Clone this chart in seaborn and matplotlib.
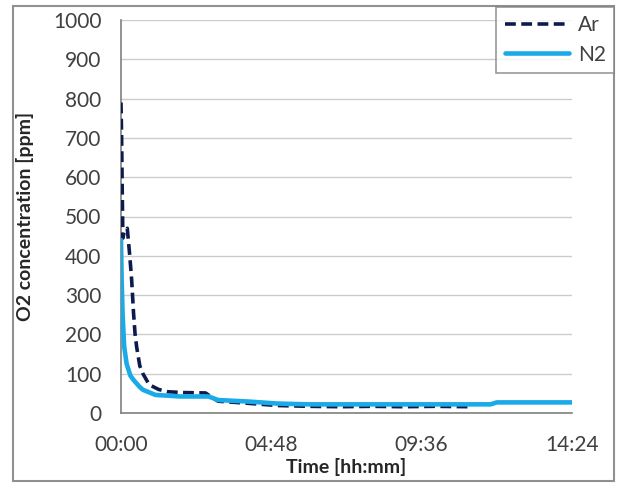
import matplotlib
matplotlib.use("Agg")
import matplotlib.pyplot as plt
import numpy as np
import pandas as pd
import seaborn as sns
from matplotlib.patches import Rectangle
from matplotlib.lines import Line2D

# values, time in hours
ar_time = [0.0, 0.02, 0.04, 0.06, 0.1, 0.2, 0.28, 0.34, 0.4, 0.45, 0.5, 0.6, 0.7, 0.9,
           1.2, 1.5, 2.0, 2.7, 2.9, 3.1, 4.0, 5.0, 6.0, 7.0, 8.0, 9.0, 10.0, 11.1]
ar_ppm = [790, 700, 560, 445, 460, 470, 400, 339, 255, 200, 168, 120, 100, 72,
          60, 54, 52, 51, 40, 30, 25, 19, 17, 16, 17, 16, 17, 16]

n2_time = [0.0, 0.02, 0.05, 0.1, 0.18, 0.3, 0.4, 0.6, 0.7, 1.1, 1.9, 2.8, 3.1, 4.1,
           5.0, 6.0, 8.0, 10.0, 11.8, 12.0, 14.4]
n2_ppm = [440, 340, 255, 170, 125, 95, 84, 66, 59, 46, 42, 42, 33, 29,
          24, 22, 22, 22, 22, 27, 27]

x_ticks = [0, 4.8, 9.6, 14.4]
x_tick_labels = ["00:00", "04:48", "09:36", "14:24"]
y_ticks = list(range(0, 1001, 100))

ar_color = "#0d1a4e"
n2_color = "#1aaae8"

sns.set_style("white")
plt.rcParams["font.family"] = ["Lato", "DejaVu Sans"]

fig = plt.figure(figsize=(6.21, 4.83), dpi=100)
ax = fig.add_axes([121 / 621, 1 - 413 / 483, 451 / 621, 393 / 483])

ar_df = pd.DataFrame({"t": ar_time, "ppm": ar_ppm})
n2_df = pd.DataFrame({"t": n2_time, "ppm": n2_ppm})

ar_dash = (0, (3.0, 1.5))
sns.lineplot(data=ar_df, x="t", y="ppm", ax=ax, color=ar_color, lw=2.6,
             linestyle=ar_dash, zorder=3)
sns.lineplot(data=n2_df, x="t", y="ppm", ax=ax, color=n2_color, lw=3.3, zorder=4)

ax.set_xlim(0, 14.4)
ax.set_ylim(0, 1000)
ax.set_xticks(x_ticks)
ax.set_xticklabels(x_tick_labels)
ax.set_yticks(y_ticks)
ax.tick_params(axis="both", labelsize=15, colors="#404040")
ax.tick_params(axis="x", direction="out", length=6, width=1, color="#808080", pad=10)
ax.tick_params(axis="y", direction="out", length=4, width=1, color="#808080", pad=10)

ax.yaxis.grid(True, color="#cccccc", lw=1)
ax.xaxis.grid(False)
for s in ["top", "right"]:
    ax.spines[s].set_visible(False)
for s in ["left", "bottom"]:
    ax.spines[s].set_color("#808080")
    ax.spines[s].set_linewidth(1.2)

ax.set_xlabel("Time [hh:mm]", fontsize=14, fontweight="bold", labelpad=2)
ax.set_ylabel("O2 concentration [ppm]", fontsize=14, fontweight="bold", labelpad=14)

handles = [Line2D([], [], color=ar_color, lw=2.6, linestyle=ar_dash),
           Line2D([], [], color=n2_color, lw=3.3)]
leg = fig.legend(handles, ["Ar", "N2"], loc="upper right",
                 bbox_to_anchor=(614 / 621, 1 - 7 / 483), fontsize=15,
                 frameon=True, fancybox=False, edgecolor="#808080",
                 handlelength=3.1, handletextpad=0.4, borderpad=0.4,
                 labelspacing=0.45, borderaxespad=0)
leg.get_frame().set_linewidth(1.2)
for t in leg.get_texts():
    t.set_color("#404040")

# outer chart border
fig.patches.append(Rectangle((13 / 621, 1 - 481 / 483), 601 / 621, 475 / 483,
                             transform=fig.transFigure, fill=False,
                             edgecolor="#909090", lw=1.5))

fig.savefig("out.png", dpi=100)
